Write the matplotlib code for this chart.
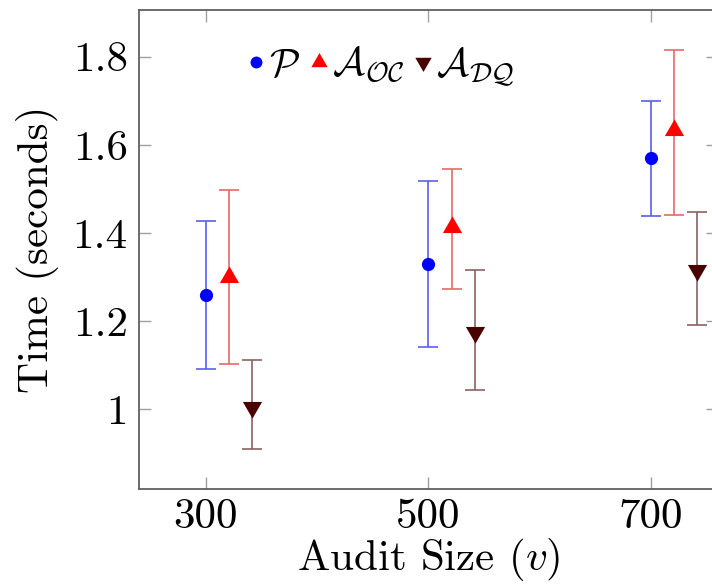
import matplotlib
matplotlib.use("Agg")
import matplotlib.pyplot as plt
from matplotlib.lines import Line2D

plt.rcParams['font.family'] = 'serif'
plt.rcParams['font.serif'] = ['cmr10', 'DejaVu Serif']
plt.rcParams['mathtext.fontset'] = 'cm'
plt.rcParams['axes.formatter.use_mathtext'] = True

# ---- data ----
audit_sizes = [300, 500, 700]
x_offsets = [0, 21, 42]
series_labels = [r'$\mathcal{P}$', r'$\mathcal{A}_{\mathcal{OC}}$', r'$\mathcal{A}_{\mathcal{DQ}}$']
p_mean = [1.259, 1.330, 1.570]
p_low = [1.091, 1.142, 1.439]
p_high = [1.428, 1.517, 1.700]
oc_mean = [1.301, 1.413, 1.633]
oc_low = [1.103, 1.274, 1.440]
oc_high = [1.498, 1.545, 1.816]
dq_mean = [1.005, 1.175, 1.316]
dq_low = [0.909, 1.043, 1.192]
dq_high = [1.112, 1.316, 1.447]
y_ticks = [1.0, 1.2, 1.4, 1.6, 1.8]
y_tick_labels = ['1', '1.2', '1.4', '1.6', '1.8']
x_tick_labels = ['300', '500', '700']

fig = plt.figure(figsize=(7.12, 5.84), dpi=100)
ax = fig.add_axes([0.1952, 0.1622, 0.8132, 0.8207])

tri_up = [(0, 1), (-0.866, -0.5), (0.866, -0.5), (0, 1)]
tri_dn = [(0, -1), (-0.866, 0.5), (0.866, 0.5), (0, -1)]

styles = [
    dict(marker='o', color='#0000ff', ecolor='#5c5cf0', ms=9.5),
    dict(marker=tri_up, color='#ff0000', ecolor='#e86a6a', ms=16),
    dict(marker=tri_dn, color='#4a0000', ecolor='#8a6262', ms=16),
]
means = [p_mean, oc_mean, dq_mean]
lows = [p_low, oc_low, dq_low]
highs = [p_high, oc_high, dq_high]

handles = []
for i in range(3):
    xs = [a + x_offsets[i] for a in audit_sizes]
    lo = [m - l for m, l in zip(means[i], lows[i])]
    hi = [h - m for m, h in zip(means[i], highs[i])]
    st = styles[i]
    ax.errorbar(xs, means[i], yerr=[lo, hi], fmt='none', ecolor=st['ecolor'],
                elinewidth=1.2, capsize=7.5, capthick=1.2, zorder=2)
    ax.plot(xs, means[i], linestyle='none', marker=st['marker'], color=st['color'],
            markersize=st['ms'], markeredgewidth=0, zorder=3)
    handles.append(Line2D([], [], linestyle='none', marker=st['marker'], color=st['color'],
                          markersize=st['ms'] * (0.9 if i == 0 else 0.85), markeredgewidth=0))

ax.set_xlim(240, 760.6)
ax.set_ylim(0.8185, 1.906)
ax.set_xticks(audit_sizes)
ax.set_xticklabels(x_tick_labels)
ax.set_yticks(y_ticks)
ax.set_yticklabels(y_tick_labels)

for sp in ax.spines.values():
    sp.set_color('#606060')
    sp.set_linewidth(1.3)

ax.tick_params(axis='both', which='both', direction='in', length=8.5, width=1.0,
               color='#a0a0a0', top=True, right=True, labelsize=31)
ax.tick_params(axis='x', pad=7)
ax.tick_params(axis='y', pad=8)

ax.set_xlabel(r'Audit Size ($v$)', fontsize=31, labelpad=0)
ax.set_ylabel('Time (seconds)', fontsize=31, labelpad=10)

ax.legend(handles, series_labels, loc='center', bbox_to_anchor=(0.418, 0.882), ncol=3,
          frameon=False, fontsize=28.5, handlelength=0.45, handletextpad=0.1,
          columnspacing=0.25, borderpad=0)

fig.savefig('out.png', dpi=100)
